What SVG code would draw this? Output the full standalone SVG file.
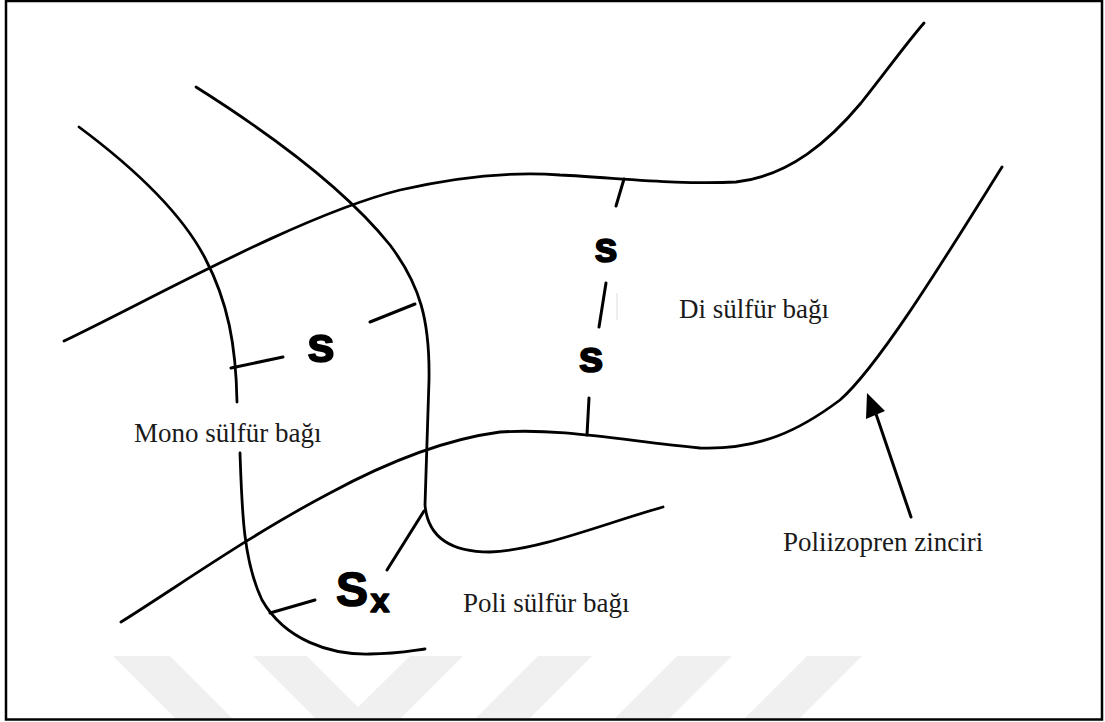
<svg xmlns="http://www.w3.org/2000/svg" width="1105" height="722" viewBox="0 0 1105 722">
<style>
.chain{fill:none;stroke:#000;stroke-width:2.8;stroke-linecap:round;stroke-linejoin:round}
.bond{fill:none;stroke:#000;stroke-width:3;stroke-linecap:round}
.lbl{font-family:"Liberation Serif","Times New Roman",serif;font-size:27px;fill:#1a1a1a}
.sym{font-family:"Liberation Sans",Arial,sans-serif;font-weight:bold;fill:#000;stroke:#000;stroke-width:1.6;stroke-linejoin:round;text-anchor:middle}
.wm{fill:#f0f0f0;stroke:none}
</style>
<rect x="0" y="0" width="1105" height="722" fill="#fff"/>
<g id="watermark">
<polygon class="wm" points="113,656 170,656 233,719 176,719"/>
<polygon class="wm" points="253,656 307,656 358,707 410,656 463,656 400,719 316,719"/>
<polygon class="wm" points="538,656 592,656 529,719 475,719"/>
<polygon class="wm" points="677,656 732,656 669,719 614,719"/>
<polygon class="wm" points="807,656 862,656 799,719 744,719"/>
</g>
<rect id="frame" x="6" y="1" width="1096" height="718.5" fill="none" stroke="#000" stroke-width="2.5"/>
<g id="chains">
<path id="chainA1" class="chain" d="M79,127 C130,165 180,210 205,258 C228,302 236,345 237,402"/>
<path id="chainA2" class="chain" d="M240,453 C242,510 243,560 262,600 C285,640 330,655 370,654 C395,654 410,651 425,649"/>
<path id="chainB" class="chain" d="M196,87 C280,140 350,195 390,245 C420,285 430,320 429,380 L425,505 C428,540 455,552 490,552 C540,550 600,525 663,507"/>
<path id="chainC" class="chain" d="M64,341 C150,300 300,215 400,190 C470,174 520,172 560,175 C620,178 680,185 736,182 C790,176 830,140 861,103 C885,73 905,45 924,23"/>
<path id="chainD" class="chain" d="M121,622 C180,585 250,535 330,493 C380,466 440,440 500,432 C560,428 620,440 700,448 C760,450 800,430 840,400 C880,365 950,250 1002,167"/>
</g>
<g id="mono-bridge">
<line class="bond" x1="231" y1="368" x2="283" y2="357"/>
<line class="bond" x1="370" y1="322" x2="415" y2="304"/>
<text class="sym" x="321" y="362" font-size="50">s</text>
</g>
<g id="di-bridge">
<line class="bond" x1="624" y1="179" x2="616" y2="206"/>
<text class="sym" x="606" y="262" font-size="42">s</text>
<line class="bond" x1="606" y1="283" x2="599" y2="327"/>
<line x1="617" y1="293" x2="617" y2="320" stroke="#ddd" stroke-width="1"/>
<text class="sym" x="591" y="372" font-size="45">s</text>
<line class="bond" x1="589" y1="398" x2="587" y2="435"/>
</g>
<g id="poly-bridge">
<line class="bond" x1="270" y1="613" x2="315" y2="600"/>
<line class="bond" x1="387" y1="570" x2="424" y2="511"/>
<text class="sym" x="352" y="606" font-size="48">S</text>
<text class="sym" x="380" y="612" font-size="34">x</text>
</g>
<g id="arrow">
<line class="bond" x1="911" y1="517" x2="876" y2="414" stroke-width="3.5"/>
<polygon points="867,393 885,411 866,419" fill="#000"/>
</g>
<g id="labels">
<text class="lbl" x="134" y="442">Mono sülfür bağı</text>
<text class="lbl" x="679" y="318">Di sülfür bağı</text>
<text class="lbl" x="463" y="612">Poli sülfür bağı</text>
<text class="lbl" x="783" y="551">Poliizopren zinciri</text>
</g>
</svg>
